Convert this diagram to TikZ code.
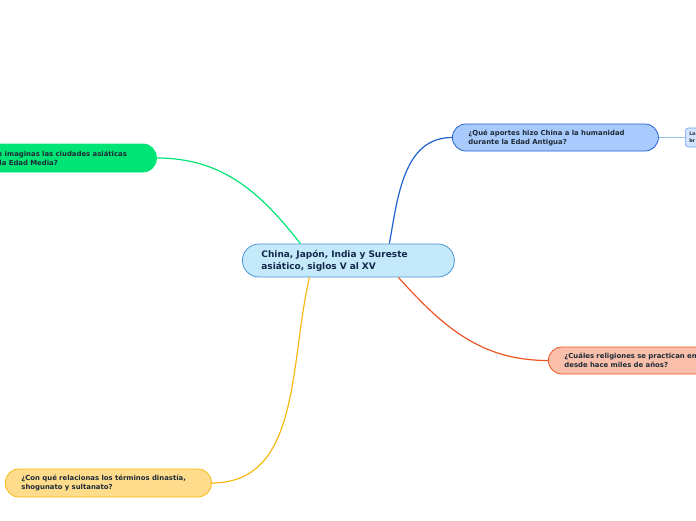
\documentclass[tikz,border=0pt]{standalone}
\usepackage{fontspec}
\setmainfont{DejaVu Sans}
\usetikzlibrary{positioning}
\definecolor{centrefill}{HTML}{C4E9FB}
\definecolor{centreline}{HTML}{4A96D2}
\definecolor{centretext}{HTML}{14284B}
\definecolor{nodetext}{HTML}{1D2B36}
\definecolor{bluefill}{HTML}{A9CAFC}
\definecolor{blueline}{HTML}{1F62D2}
\definecolor{greenfill}{HTML}{00E375}
\definecolor{redfill}{HTML}{F9BFAB}
\definecolor{redline}{HTML}{EE5522}
\definecolor{yellowfill}{HTML}{FFDC8C}
\definecolor{yellowline}{HTML}{F8B814}
\definecolor{subfill}{HTML}{D2E4FF}
\definecolor{subline}{HTML}{6AA2EA}
\begin{document}
\begin{tikzpicture}[x=1pt, y=-1pt,
  topic/.style={draw, line width=0.8pt, rounded corners=13.5pt,
    minimum height=27pt, text width=174pt, inner xsep=16pt, inner ysep=0pt,
    align=left, anchor=west, text=nodetext,
    font=\fontsize{6.9}{9}\selectfont\bfseries},
  link/.style={line width=1.2pt}]
  \useasboundingbox (0,0) rectangle (696,520);
  \clip (0,0) rectangle (696,520);
  \node[topic, fill=centrefill, draw=centreline, text=centretext,
    rounded corners=16.5pt, minimum height=33pt, inner xsep=19pt,
    font=\fontsize{9}{12}\selectfont\bfseries]
    (centre) at (242,260.5) {China, Japón, India y Sureste\\asiático, siglos V al XV};
  \node[topic, fill=bluefill, draw=blueline] (antigua) at (452,137.5)
    {¿Qué aportes hizo China a la humanidad\\durante la Edad Antigua?};
  \node[topic, fill=greenfill, draw=greenfill, minimum height=28pt] (medieval) at (-50,158)
    {¿Cómo te imaginas las ciudades asiáticas\\durante la Edad Media?};
  \node[topic, fill=redfill, draw=redline] (religion) at (548,360.5)
    {¿Cuáles religiones se practican en\\desde hace miles de años?};
  \node[topic, fill=yellowfill, draw=yellowline, minimum height=28pt] (dinastia) at (5,483)
    {¿Con qué relacionas los términos dinastía,\\shogunato y sultanato?};
  \node[draw=subline, fill=subfill, line width=0.6pt, rounded corners=3pt,
    minimum height=19pt, text width=20pt, inner xsep=4pt, inner ysep=0pt,
    align=left, anchor=west, text=nodetext,
    font=\fontsize{4.8}{6.5}\selectfont\bfseries] (aportes) at (685,137.5) {Lo\\br};
  \draw[link, draw=blueline] ([xshift=41pt]centre.north) to[out=80,in=180] (antigua.west);
  \draw[link, draw=greenfill] ([xshift=-48pt]centre.north) to[out=128,in=0] (medieval.east);
  \draw[link, draw=redline] ([xshift=50pt]centre.south) to[out=-48,in=180] (religion.west);
  \draw[link, draw=yellowline] ([xshift=-39pt]centre.south) to[out=-103,in=0] (dinastia.east);
  \draw[line width=0.8pt, draw=subline!70] (antigua.east) -- (aportes.west);
\end{tikzpicture}
\end{document}
